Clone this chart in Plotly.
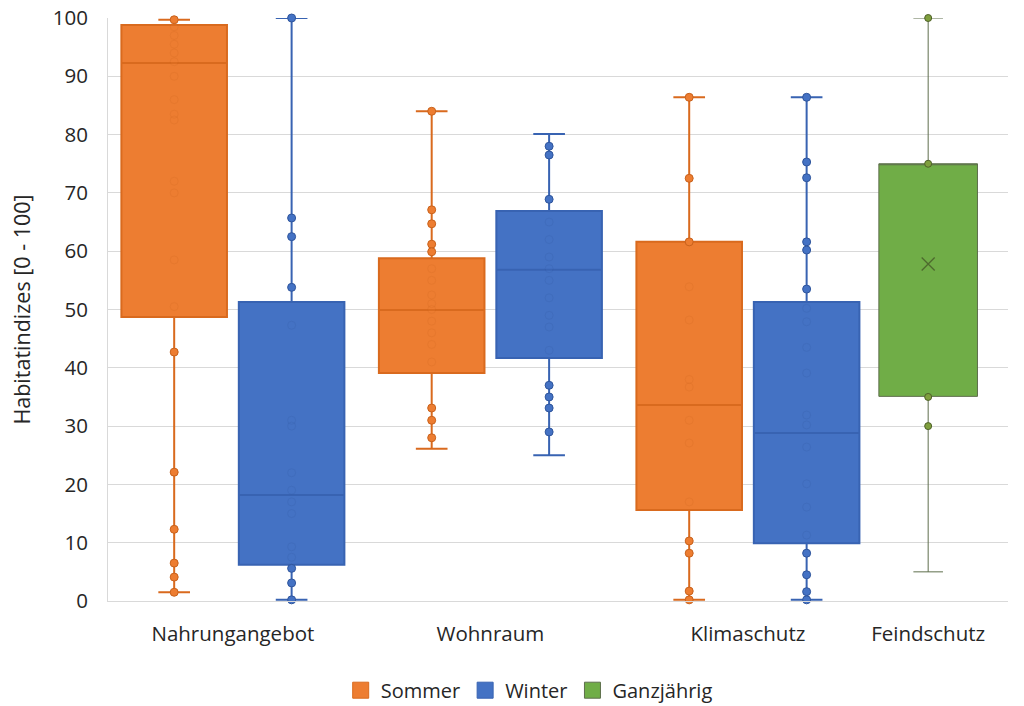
import plotly.graph_objects as go

# ---------------- data ----------------
categories = ["Nahrungangebot", "Wohnraum", "Klimaschutz", "Feindschutz"]
series_names = ["Sommer", "Winter", "Ganzjährig"]

# individual index values per category
sommer_nahrung = [99.7, 98.5, 97.0, 95.5, 94.0, 92.5, 90.0, 86.0, 83.5, 82.5, 72.0, 70.0,
                  58.5, 50.5, 42.7, 22.1, 12.3, 6.5, 4.1, 1.5]
winter_nahrung = [100.0, 65.7, 62.5, 53.8, 47.3, 31.0, 30.0, 22.0, 19.0, 17.0, 15.0, 9.3,
                  7.5, 5.6, 3.1, 0.2]
sommer_wohnraum = [84.0, 67.1, 64.7, 61.2, 59.9, 57.0, 55.0, 52.5, 51.0, 50.0, 48.0, 46.0,
                   44.0, 41.0, 33.1, 31.0, 28.0]
winter_wohnraum = [78.0, 76.5, 68.9, 65.0, 62.0, 59.0, 57.0, 55.0, 52.0, 49.0, 47.0, 43.0,
                   37.0, 35.0, 33.1, 29.0]
sommer_klima = [86.4, 72.5, 61.6, 53.9, 48.2, 38.0, 36.7, 31.0, 27.1, 17.0, 10.3, 8.2, 1.7, 0.2]
winter_klima = [86.4, 75.3, 72.6, 61.6, 60.2, 53.5, 50.2, 47.9, 43.5, 39.1, 31.9, 30.2, 26.4,
                20.1, 16.1, 11.3, 8.2, 4.5, 1.6, 0.2]
ganz_feind = [100.0, 75.0, 35.0, 30.0]

# box statistics per series (lower whisker, Q1, median, Q3, upper whisker)
sommer_lower = [1.5, 26.1, 0.2]
sommer_q1 = [48.7, 39.1, 15.6]
sommer_median = [92.3, 49.9, 33.6]
sommer_q3 = [98.8, 58.8, 61.6]
sommer_upper = [99.7, 84.0, 86.4]

winter_lower = [0.2, 25.0, 0.2]
winter_q1 = [6.2, 41.7, 9.9]
winter_median = [18.2, 56.8, 28.8]
winter_q3 = [51.3, 66.9, 51.3]
winter_upper = [100.0, 80.1, 86.4]

ganz_lower = [5.0]
ganz_q1 = [35.1]
ganz_median = [75.0]
ganz_q3 = [75.0]
ganz_upper = [100.0]
ganz_mean = [57.8]

yticks = [0, 10, 20, 30, 40, 50, 60, 70, 80, 90, 100]

# ---------------- layout helpers ----------------
cat_x = {"Nahrungangebot": 0.0, "Wohnraum": 1.0, "Klimaschutz": 2.0, "Feindschutz": 2.7}
offset = 0.228
box_w = 0.41

styles = {
    "Sommer": dict(fill="#ED7D31", line="#D96A1E", marker="#ED7D31", mline="#C9621C", lw=2.0, ms=8),
    "Winter": dict(fill="#4472C4", line="#3863B2", marker="#4472C4", mline="#2F559C", lw=2.0, ms=8),
    "Ganzjährig": dict(fill="#70AD47", line="#5E6E4C", marker="#7F9F3E", mline="#4E6128", lw=1.0, ms=7),
}

fig = go.Figure()

def add_series(name, cats, dx, lower, q1, med, q3, upper, points, width):
    st = styles[name]
    xs = [cat_x[c] + dx for c in cats]
    fig.add_trace(go.Box(
        name=name, legendgroup=name, showlegend=False,
        x=xs, q1=q1, median=med, q3=q3, lowerfence=lower, upperfence=upper,
        width=width, whiskerwidth=0.3, boxpoints=False,
        fillcolor=st["fill"], line=dict(color=st["line"], width=st["lw"]),
        hoverinfo="skip",
    ))
    for i, vals in enumerate(points):
        op = [1.0 if (v >= q3[i] - 0.2 or v <= q1[i] + 0.2) else 0.18 for v in vals]
        fig.add_trace(go.Scatter(
            x=[xs[i]] * len(vals), y=vals, mode="markers", showlegend=False,
            legendgroup=name, cliponaxis=False,
            marker=dict(color=st["marker"], size=st["ms"], opacity=op,
                        line=dict(color=st["mline"], width=1)),
            hoverinfo="y",
        ))
    # legend entry (square swatch)
    fig.add_trace(go.Scatter(
        x=[None], y=[None], mode="markers", name=name, legendgroup=name,
        marker=dict(symbol="square", size=16, color=st["fill"],
                    line=dict(color=st["line"], width=1)),
    ))

add_series("Sommer", categories[:3], -offset, sommer_lower, sommer_q1, sommer_median,
           sommer_q3, sommer_upper, [sommer_nahrung, sommer_wohnraum, sommer_klima], box_w)
add_series("Winter", categories[:3], offset, winter_lower, winter_q1, winter_median,
           winter_q3, winter_upper, [winter_nahrung, winter_wohnraum, winter_klima], box_w)
add_series("Ganzjährig", categories[3:], 0.0, ganz_lower, ganz_q1, ganz_median,
           ganz_q3, ganz_upper, [ganz_feind], 0.383)

# mean marker for the year-round box
fig.add_trace(go.Scatter(
    x=[cat_x["Feindschutz"]], y=ganz_mean, mode="markers", showlegend=False,
    marker=dict(symbol="x-thin", size=13, line=dict(color="#4E6A2E", width=1.3)),
    hoverinfo="y",
))

font_family = "Open Sans, Lato, sans-serif"
fig.update_layout(
    width=1024, height=706,
    margin=dict(l=108, r=16, t=18, b=105, autoexpand=False),
    paper_bgcolor="white", plot_bgcolor="white",
    font=dict(family=font_family, size=20, color="#262626"),
    showlegend=True,
    legend=dict(orientation="h", x=0.468, xanchor="center", y=-0.153, yanchor="middle",
                font=dict(size=20, color="#262626"), traceorder="normal",
                itemsizing="trace"),
    xaxis=dict(
        range=[-0.485, 3.01], automargin=False,
        tickvals=[cat_x[c] for c in categories], ticktext=categories,
        tickfont=dict(size=20.5, color="#262626"),
        showgrid=False, zeroline=False,
        showline=True, linecolor="#D9D9D9", linewidth=1,
        ticks="", ticklabelstandoff=14,
    ),
    yaxis=dict(
        range=[0, 100], tickvals=yticks, automargin=False,
        tickfont=dict(size=20.5, color="#262626"),
        showgrid=True, gridcolor="#D9D9D9", gridwidth=1,
        zeroline=False, showline=True, linecolor="#D9D9D9", linewidth=1,
        ticks="", ticklabelstandoff=15,
        title=dict(text="Habitatindizes [0 - 100]", font=dict(size=21.5, color="#262626"),
                   standoff=16),
    ),
)

fig.write_html("out.html", config={"displayModeBar": False},
               post_script="document.body.style.margin='0';")
